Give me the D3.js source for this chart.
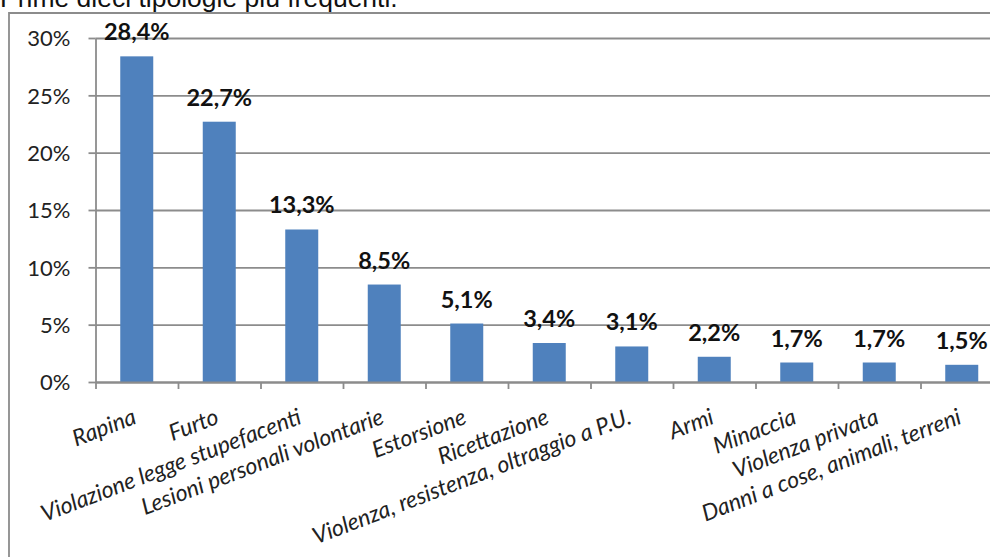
<!DOCTYPE html>
<html>
<head>
<meta charset="utf-8">
<script src="https://cdn.jsdelivr.net/npm/d3@7"></script>
<style>
  body { margin: 0; background: #fff; }
  svg { display: block; }
</style>
</head>
<body>
<div class="chart"></div>
<script>
const categories = ["Rapina", "Furto", "Violazione legge stupefacenti", "Lesioni personali volontarie",
  "Estorsione", "Ricettazione", "Violenza, resistenza, oltraggio a P.U.", "Armi", "Minaccia",
  "Violenza privata", "Danni a cose, animali, terreni"];
const values = [28.4, 22.7, 13.3, 8.5, 5.1, 3.4, 3.1, 2.2, 1.7, 1.7, 1.5];
const yTicks = [0, 5, 10, 15, 20, 25, 30];
const title = "Prime dieci tipologie più frequenti.";

const width = 990, height = 557;
const plotLeft = 95.5, plotRight = 1003, plotTop = 38, plotBottom = 382;
const axisColor = '#8c8c8c';

const svg = d3.select('.chart').append('svg')
  .attr('width', width)
  .attr('height', height);

// title, cut at the top like in the source
svg.append('text')
  .attr('x', 0).attr('y', 7)
  .attr('font-family', 'Liberation Sans, Arial, sans-serif')
  .attr('font-size', 26.5)
  .attr('fill', '#111')
  .text(title);

// chart frame
svg.append('path')
  .attr('d', `M9,${height} V13 H${width}`)
  .attr('fill', 'none')
  .attr('stroke', axisColor)
  .attr('stroke-width', 1.8);

const x = d3.scaleBand().domain(categories).range([plotLeft, plotRight])
  .paddingInner(0.6).paddingOuter(0.3);
const xEdge = d3.scaleLinear().domain([0, categories.length]).range([plotLeft, plotRight]);
const y = d3.scaleLinear().domain([0, 30]).range([plotBottom, plotTop]);

// gridlines
svg.append('g')
  .attr('transform', `translate(${plotLeft},0)`)
  .call(d3.axisLeft(y).tickValues(yTicks).tickSize(-(plotRight - plotLeft)).tickFormat(''))
  .call(g => g.select('.domain').remove())
  .call(g => g.selectAll('line').attr('stroke', axisColor).attr('stroke-width', 1.8));

// bars
svg.append('g').selectAll('rect')
  .data(values)
  .join('rect')
  .attr('x', (d, i) => x(categories[i]))
  .attr('width', x.bandwidth())
  .attr('y', d => y(d))
  .attr('height', d => y(0) - y(d))
  .attr('fill', '#4f81bd');

// y axis
svg.append('g')
  .attr('transform', `translate(${plotLeft},0)`)
  .call(d3.axisLeft(y).tickValues(yTicks).tickSize(7).tickPadding(18).tickSizeOuter(0)
    .tickFormat(d => d + '%'))
  .call(g => g.select('.domain').attr('stroke', axisColor).attr('stroke-width', 1.8))
  .call(g => g.selectAll('line').attr('stroke', axisColor).attr('stroke-width', 1.8))
  .call(g => g.selectAll('text')
    .attr('font-family', 'Lato, sans-serif')
    .attr('font-size', 22)
    .attr('fill', '#222')
    .attr('dy', '0.36em'));

// x axis, ticks between categories
svg.append('g')
  .attr('transform', `translate(0,${plotBottom})`)
  .call(d3.axisBottom(xEdge).ticks(categories.length).tickSize(7).tickSizeOuter(0).tickFormat(''))
  .call(g => g.select('.domain').attr('stroke', axisColor).attr('stroke-width', 1.8))
  .call(g => g.selectAll('line').attr('stroke', axisColor).attr('stroke-width', 1.8));

// category labels
svg.append('g').selectAll('text')
  .data(categories)
  .join('text')
  .attr('transform', d => `translate(${x(d) + x.bandwidth() / 2 + 1},${plotBottom + 41}) rotate(-21)`)
  .attr('text-anchor', 'end')
  .attr('font-family', 'Lato, sans-serif')
  .attr('font-style', 'italic')
  .attr('font-size', 23)
  .attr('fill', '#222')
  .text(d => d);

// value labels
svg.append('g').selectAll('text')
  .data(values)
  .join('text')
  .attr('x', (d, i) => x(categories[i]) + x.bandwidth() / 2)
  .attr('y', d => y(d) - 16)
  .attr('text-anchor', 'middle')
  .attr('font-family', 'Lato, sans-serif')
  .attr('font-weight', 'bold')
  .attr('font-size', 23.5)
  .attr('fill', '#111')
  .text(d => d3.format('.1f')(d).replace('.', ',') + '%');
</script>
</body>
</html>
